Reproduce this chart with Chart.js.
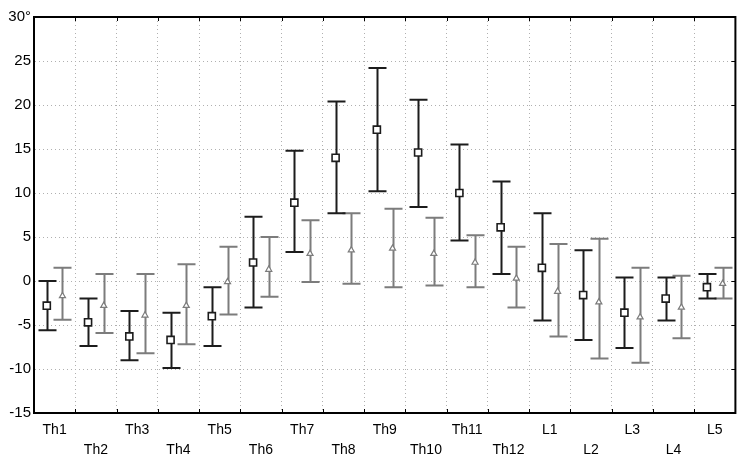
<!DOCTYPE html>
<html>
<head>
<meta charset="utf-8">
<script src="https://cdn.jsdelivr.net/npm/chart.js@4"></script>
<style>
  html, body { margin: 0; padding: 0; background: #fff; }
  #wrap { width: 742px; height: 456px; }
</style>
</head>
<body>
<div id="wrap"><canvas id="myChart" width="742" height="456"></canvas></div>
<script>
// categories (segments) and the two series: mean with low/high ends
const cats = ['Th1','Th2','Th3','Th4','Th5','Th6','Th7','Th8','Th9','Th10','Th11','Th12','L1','L2','L3','L4','L5'];

const meanA = [-2.8, -4.7, -6.3, -6.7, -4.0, 2.1, 8.9, 14.0, 17.2, 14.6, 10.0, 6.1, 1.5, -1.6, -3.6, -2.0, -0.7];
const lowA  = [-5.6, -7.4, -9.0, -9.9, -7.4, -3.0, 3.3, 7.7, 10.2, 8.4, 4.6, 0.8, -4.5, -6.7, -7.6, -4.5, -2.0];
const highA = [0.0, -2.0, -3.4, -3.6, -0.7, 7.3, 14.8, 20.4, 24.2, 20.6, 15.5, 11.3, 7.7, 3.5, 0.4, 0.4, 0.8];

const meanB = [-1.7, -2.8, -3.9, -2.8, -0.1, 1.3, 3.1, 3.5, 3.7, 3.1, 2.1, 0.3, -1.2, -2.4, -4.1, -3.0, -0.3];
const lowB  = [-4.4, -5.9, -8.2, -7.2, -3.8, -1.8, -0.1, -0.3, -0.7, -0.5, -0.7, -3.0, -6.3, -8.8, -9.3, -6.5, -2.0];
const highB = [1.5, 0.8, 0.8, 1.9, 3.9, 5.0, 6.9, 7.7, 8.2, 7.2, 5.2, 3.9, 4.2, 4.8, 1.5, 0.6, 1.5];

const yTicks = [-15, -10, -5, 0, 5, 10, 15, 20, 25, 30];

// staggered labels: odd ones on first row, even ones on second
const catLabels = cats.map((c, i) => i % 2 === 0 ? [c, ''] : ['', c]);

const shift = 0.19;
const ptsA = meanA.map((v, i) => ({x: i + 0.5 - shift, y: v}));
const ptsB = meanB.map((v, i) => ({x: i + 0.5 + shift, y: v}));

const black = '#1c1c1c';
const gray = '#7c7c7c';

// error bars + frame drawn through the scales
const errorBars = {
  id: 'errorBars',
  beforeDatasetsDraw(chart) {
    const ctx = chart.ctx;
    const xs = chart.scales.xd, ys = chart.scales.y;
    const draw = (pts, lo, hi, color) => {
      ctx.save();
      ctx.strokeStyle = color;
      ctx.lineWidth = 2;
      pts.forEach((p, i) => {
        const x = Math.round(xs.getPixelForValue(p.x)) + 0.5;
        const y1 = ys.getPixelForValue(lo[i]);
        const y2 = ys.getPixelForValue(hi[i]);
        ctx.beginPath();
        ctx.moveTo(x, y1); ctx.lineTo(x, y2);
        ctx.moveTo(x - 9, y1); ctx.lineTo(x + 9, y1);
        ctx.moveTo(x - 9, y2); ctx.lineTo(x + 9, y2);
        ctx.stroke();
      });
      ctx.restore();
    };
    draw(ptsB, lowB, highB, gray);
    draw(ptsA, lowA, highA, black);
  },
  afterDraw(chart) {
    const ctx = chart.ctx;
    const a = chart.chartArea;
    const ys = chart.scales.y, xs = chart.scales.xd;
    ctx.save();
    ctx.strokeStyle = '#000';
    ctx.lineWidth = 2;
    ctx.strokeRect(a.left, a.top, a.right - a.left, a.bottom - a.top);
    ctx.lineWidth = 1;
    ctx.beginPath();
    yTicks.forEach(v => {
      const y = Math.round(ys.getPixelForValue(v)) + 0.5;
      ctx.moveTo(a.right, y); ctx.lineTo(a.right - 4, y);
    });
    for (let i = 1; i < cats.length; i++) {
      const x = Math.round(xs.getPixelForValue(i)) + 0.5;
      ctx.moveTo(x, a.bottom); ctx.lineTo(x, a.bottom - 4);
      ctx.moveTo(x, a.top); ctx.lineTo(x, a.top + 4);
    }
    ctx.stroke();
    ctx.restore();
  }
};

new Chart(document.getElementById('myChart'), {
  type: 'scatter',
  data: {
    datasets: [
      {
        label: 'A',
        data: ptsA,
        xAxisID: 'xd',
        pointStyle: 'rect',
        pointRadius: 5,
        pointBorderWidth: 1.6,
        pointBackgroundColor: '#fff',
        pointBorderColor: black,
        showLine: false
      },
      {
        label: 'B',
        data: ptsB,
        xAxisID: 'xd',
        pointStyle: 'triangle',
        pointRadius: 3.5,
        pointBorderWidth: 1.2,
        pointBackgroundColor: '#fff',
        pointBorderColor: gray,
        showLine: false
      }
    ]
  },
  options: {
    responsive: false,
    animation: false,
    layout: { padding: { top: 17, right: 2, left: 0, bottom: 0 } },
    plugins: { legend: { display: false }, tooltip: { enabled: false } },
    scales: {
      x: {
        type: 'category',
        labels: catLabels,
        offset: true,
        position: 'bottom',
        grid: { offset: true, color: '#b0b0b0', drawTicks: false },
        border: { display: true, color: '#000', width: 2, dash: [1, 3] },
        ticks: {
          color: '#000',
          padding: 7,
          maxRotation: 0,
          autoSkip: false,
          font: { family: 'Liberation Sans, Arial, sans-serif', size: 14, lineHeight: 1.45 }
        },
        afterFit(s) { s.height = 43; }
      },
      xd: {
        type: 'linear',
        display: false,
        min: 0,
        max: cats.length,
        position: 'bottom'
      },
      y: {
        type: 'linear',
        min: -15,
        max: 30,
        afterBuildTicks(s) { s.ticks = yTicks.map(v => ({value: v})); },
        grid: { color: '#b0b0b0', drawTicks: false },
        border: { display: true, color: '#000', width: 2, dash: [1, 3] },
        ticks: {
          color: '#000',
          padding: 3,
          font: { family: 'Liberation Sans, Arial, sans-serif', size: 15 },
          callback: v => v === 30 ? '30°' : String(v)
        },
        afterFit(s) { s.width = 34; }
      }
    }
  },
  plugins: [errorBars]
});
</script>
</body>
</html>
